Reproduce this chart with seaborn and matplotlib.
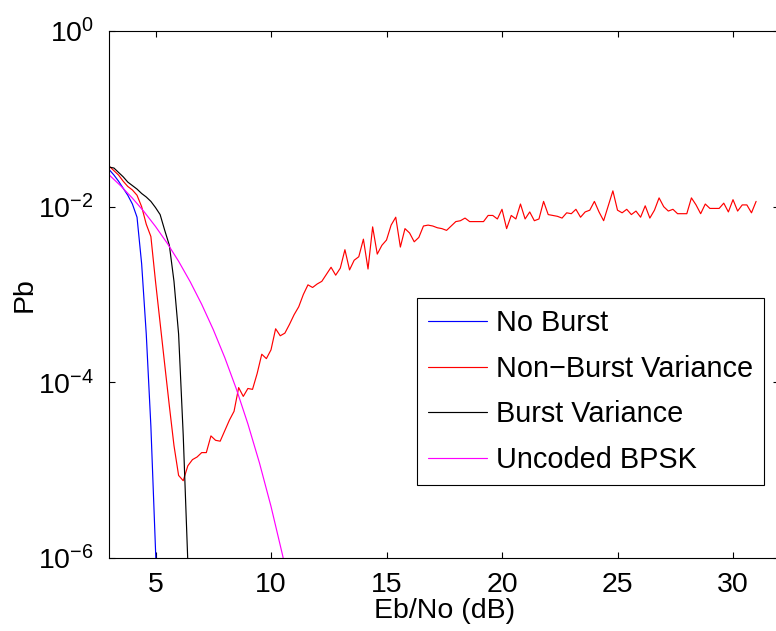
import numpy as np
import pandas as pd
import matplotlib
matplotlib.use("Agg")
import matplotlib.pyplot as plt
import seaborn as sns
from matplotlib.ticker import FixedLocator, LogFormatterSciNotation, NullLocator

# ---------------- data ----------------
# Eb/No grid of the simulated curves (0.2 dB steps)
ebno_sim = np.round(np.linspace(3.0, 31.0, 141), 1)

# No Burst: log10(Pb), 3.0 .. 5.2 dB
no_burst_log = [-1.58, -1.64, -1.71, -1.79, -1.87, -1.97, -2.12, -2.65,
                -3.45, -4.50, -5.90, -7.40]

# Burst Variance: log10(Pb), 3.0 .. 6.6 dB
burst_log = [-1.55, -1.56, -1.61, -1.66, -1.72, -1.76, -1.80, -1.85, -1.89,
             -1.94, -2.01, -2.09, -2.27, -2.44, -2.85, -3.45, -4.60, -6.05,
             -7.50]

# Non-Burst Variance: log10(Pb), 3.0 .. 31.0 dB
non_burst_log = [
    -1.54, -1.59, -1.64, -1.71, -1.77, -1.81, -1.87, -2.00, -2.20, -2.34,
    -2.85, -3.33, -3.80, -4.27, -4.72, -5.06, -5.12, -4.95, -4.88, -4.85,
    -4.80, -4.80, -4.61, -4.66, -4.67, -4.55, -4.43, -4.33, -4.06, -4.16,
    -4.07, -4.08, -3.90, -3.68, -3.73, -3.63, -3.39, -3.47, -3.44, -3.34,
    -3.23, -3.14, -3.00, -2.89, -2.92, -2.88, -2.85, -2.77, -2.69, -2.78,
    -2.70, -2.49, -2.72, -2.61, -2.57, -2.37, -2.71, -2.23, -2.54, -2.44,
    -2.38, -2.21, -2.12, -2.46, -2.25, -2.30, -2.40, -2.35, -2.22, -2.21,
    -2.22, -2.24, -2.25, -2.27, -2.22, -2.17, -2.16, -2.13, -2.17, -2.17,
    -2.17, -2.17, -2.10, -2.10, -2.14, -2.03, -2.25, -2.10, -2.14, -1.97,
    -2.14, -2.06, -2.16, -2.14, -1.94, -2.09, -2.10, -2.11, -2.13, -2.07,
    -2.08, -2.03, -2.12, -2.06, -2.04, -1.94, -2.06, -2.16, -1.99, -1.82,
    -2.04, -2.07, -2.03, -2.09, -2.05, -2.12, -1.99, -2.13, -2.04, -1.90,
    -2.00, -2.05, -2.03, -2.08, -2.08, -2.08, -1.90, -1.98, -2.08, -1.97,
    -2.02, -2.02, -2.02, -1.96, -2.06, -1.92, -2.05, -1.98, -1.98, -2.07,
    -1.94]

# Uncoded BPSK (theory curve as drawn), 0.5 dB steps
ebno_bpsk = [3.0, 3.5, 4.0, 4.5, 5.0, 5.5, 6.0, 6.5, 7.0, 7.5, 8.0, 8.5,
             9.0, 9.5, 10.0, 10.5, 11.0]
pb_bpsk = [2.29e-2, 1.72e-2, 1.25e-2, 8.8e-3, 5.95e-3, 3.86e-3, 2.39e-3,
           1.40e-3, 7.73e-4, 3.99e-4, 1.91e-4, 8.4e-5, 3.36e-5, 1.21e-5,
           3.87e-6, 1.08e-6, 2.61e-7]

labels = ["No Burst", "Non\u2212Burst Variance", "Burst Variance", "Uncoded BPSK"]
colors = ["#0000ff", "#ff0000", "#000000", "#ff00ff"]

x_ticks = [5, 10, 15, 20, 25, 30]
y_ticks = [1e0, 1e-2, 1e-4, 1e-6]

# ---------------- build frames ----------------
df_nb = pd.DataFrame({"EbNo": ebno_sim[:len(no_burst_log)],
                      "Pb": 10.0 ** np.array(no_burst_log)})
df_nbv = pd.DataFrame({"EbNo": ebno_sim[:len(non_burst_log)],
                       "Pb": 10.0 ** np.array(non_burst_log)})
df_bv = pd.DataFrame({"EbNo": ebno_sim[:len(burst_log)],
                      "Pb": 10.0 ** np.array(burst_log)})
df_bpsk = pd.DataFrame({"EbNo": ebno_bpsk, "Pb": pb_bpsk})

# ---------------- style ----------------
sns.set_style("ticks")
plt.rcParams["font.family"] = ["Liberation Sans", "DejaVu Sans"]
plt.rcParams["mathtext.fontset"] = "custom"
plt.rcParams["mathtext.rm"] = "Liberation Sans"
plt.rcParams["mathtext.it"] = "Liberation Sans:italic"
plt.rcParams["mathtext.bf"] = "Liberation Sans:bold"
for key in ["text.color", "axes.labelcolor", "xtick.color", "ytick.color",
            "axes.edgecolor"]:
    plt.rcParams[key] = "black"

fig = plt.figure(figsize=(7.76, 6.31), dpi=100)
ax = fig.add_axes([109.3 / 776, (631 - 558) / 631, 669.9 / 776, 527 / 631])
ax.set_yscale("log")

lw = 0.85
for df, lab, col in zip([df_nb, df_nbv, df_bv, df_bpsk], labels, colors):
    sns.lineplot(data=df, x="EbNo", y="Pb", ax=ax, color=col, label=lab,
                 linewidth=lw, sort=False, estimator=None)

ax.set_xlim(3, 32)
ax.set_ylim(1e-6, 1e0)
ax.xaxis.set_major_locator(FixedLocator(x_ticks))
ax.yaxis.set_major_locator(FixedLocator(y_ticks))
ax.yaxis.set_major_formatter(LogFormatterSciNotation())
ax.yaxis.set_minor_locator(NullLocator())
ax.xaxis.set_minor_locator(NullLocator())

ax.tick_params(axis="both", which="major", direction="in", length=4.5,
               width=0.8, top=True, right=True, labelsize=20.5,
               color="black", labelcolor="black")
ax.tick_params(axis="y", pad=11)
ax.tick_params(axis="x", pad=10)
for sp in ax.spines.values():
    sp.set_linewidth(0.8)
    sp.set_color("black")
    sp.set_visible(True)

ax.set_xlabel("Eb/No (dB)", fontsize=20.5, labelpad=0, color="black")
ax.set_ylabel("Pb", fontsize=20.5, labelpad=0, color="black")

leg = ax.legend(loc="lower left", bbox_to_anchor=(0.4589, 0.1385),
                borderaxespad=0, fontsize=20.8, frameon=True, fancybox=False,
                framealpha=1, edgecolor="black", handlelength=2.05,
                handletextpad=0.3, labelspacing=0.61, borderpad=0.38)
leg.get_frame().set_linewidth(0.8)
for t in leg.get_texts():
    t.set_color("black")

fig.savefig("out.png", dpi=100)
